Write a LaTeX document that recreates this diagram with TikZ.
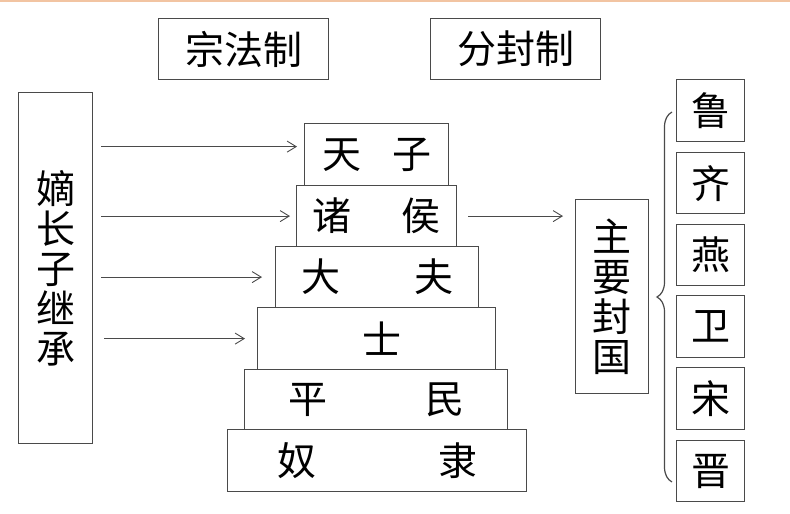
\documentclass[tikz,border=0pt]{standalone}
\usepackage{fontspec}
\setmainfont{Noto Sans CJK SC}
\usetikzlibrary{arrows.meta,positioning,calc,decorations.pathreplacing}
\definecolor{cline}{HTML}{4A4A4A}
\definecolor{ctop}{HTML}{F2C4A2}
\newcommand{\bigcjk}{\fontsize{39}{40}\selectfont}

\begin{document}
\begin{tikzpicture}[
  x=1pt, y=-1pt,
  font=\bigcjk,
  box/.style n args={2}{draw=cline, line width=1.2pt, fill=white, inner sep=0pt,
              minimum width=#1, minimum height=#2, anchor=north west, align=center},
  arr/.style={-{Straight Barb[length=9pt,width=11pt]}, line width=0.9pt, draw=cline},
  brc/.style={decorate, decoration={brace, amplitude=15pt}, line width=1.2pt, draw=cline},
]
\useasboundingbox (0,0) rectangle (790,514);
\fill[ctop] (0,0) rectangle (790,1.5);

% ------------------------------------------------------------ titles
\node[box={170pt}{61pt}] (zongfa) at (158,18) {宗法制};
\node[box={170pt}{61pt}] (fenfeng) at (430,18) {分封制};

% ------------------------------------------------------------ inheritance
\node[box={74pt}{351pt}] (dizhang) at (18,92) {嫡\\长\\子\\继\\承};

% ------------------------------------------------------------ pyramid
\node[box={299pt}{62pt}] (nuli) at (227,429) {奴\hspace{122pt}隶};
\node[box={263pt}{60pt}] (pingmin) at (244,369) {平\hspace{98pt}民};
\node[box={238pt}{62pt}] (shi) at (257,307) {\hspace{10pt}士};
\node[box={203pt}{61pt}] (dafu) at (275,246) {大\hspace{74pt}夫};
\node[box={160pt}{61pt}] (zhuhou) at (296,185) {诸\hspace{50pt}侯};
\node[box={144pt}{62pt}] (tianzi) at (304,123) {天\hspace{31pt}子};

\draw[arr] ([xshift=8pt,yshift=8pt]dizhang.east |- tianzi.west) -- ([xshift=-7pt,yshift=8pt]tianzi.west);
\draw[arr] ([xshift=8pt]dizhang.east |- zhuhou.west) -- ([xshift=-6pt]zhuhou.west);
\draw[arr] ([xshift=8pt]dizhang.east |- dafu.west) -- ([xshift=-13pt]dafu.west);
\draw[arr] ([xshift=11pt]dizhang.east |- shi.west) -- ([xshift=-12pt]shi.west);

% ------------------------------------------------------------ states
\node[box={73pt}{194pt}] (zhuyao) at (575,199) {主\\要\\封\\国};
\draw[arr] ([xshift=11pt]zhuhou.east) -- ([xshift=-12pt]zhuyao.west |- zhuhou.east);

\node[box={68pt}{62pt}] (lu) at (676,79) {鲁};
\node[box={68pt}{61pt}] (qi) at (676,152) {齐};
\node[box={68pt}{61pt}] (yan) at (676,224) {燕};
\node[box={68pt}{62pt}] (wei) at (676,295) {卫};
\node[box={68pt}{62pt}] (song) at (676,367) {宋};
\node[box={68pt}{61pt}] (jin) at (676,440) {晋};

\coordinate (bt) at (672,112);
\coordinate (bb) at (672,482);
\draw[brc] (bb) -- (bt);

\end{tikzpicture}
\end{document}
